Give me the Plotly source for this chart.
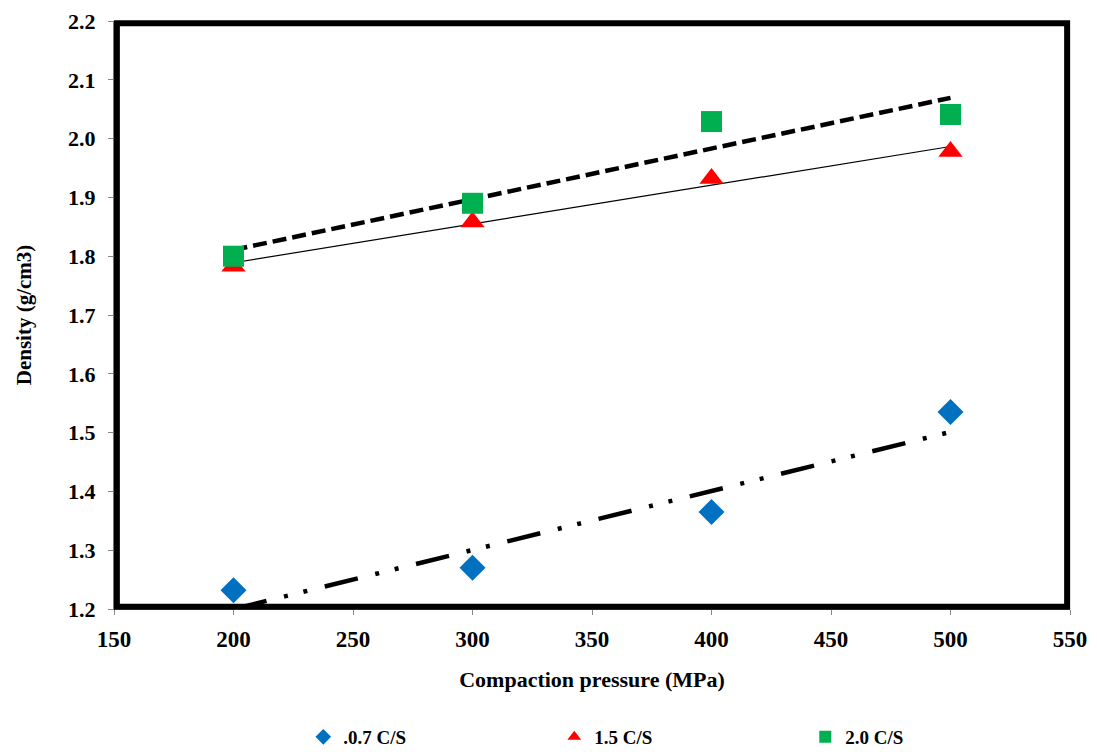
import numpy as np
import plotly.graph_objects as go

pressure = [200, 300, 400, 500]
cs07 = [1.232, 1.270, 1.365, 1.535]
cs15 = [1.783, 1.858, 1.932, 1.978]
cs20 = [1.800, 1.890, 2.029, 2.041]

names = [".0.7 C/S", "1.5 C/S", "2.0 C/S"]
colors = ["#0070C0", "#FF0000", "#00B050"]
x_ticks = [150, 200, 250, 300, 350, 400, 450, 500, 550]
y_ticks = [1.2, 1.3, 1.4, 1.5, 1.6, 1.7, 1.8, 1.9, 2.0, 2.1, 2.2]

FONT = "Liberation Serif"

fig = go.Figure()

def trend(y):
    k, b = np.polyfit(pressure, y, 1)
    xs = [pressure[0], pressure[-1]]
    return xs, [k * v + b for v in xs]

# trend lines
tx, ty = trend(cs07)
fig.add_trace(go.Scatter(x=tx, y=ty, mode="lines", showlegend=False, hoverinfo="skip",
                         line=dict(color="black", width=4.5,
                                   dash="34px,18px,4px,16px,4px,18px")))
tx, ty = trend(cs15)
fig.add_trace(go.Scatter(x=tx, y=ty, mode="lines", showlegend=False, hoverinfo="skip",
                         line=dict(color="black", width=1.2)))
tx, ty = trend(cs20)
fig.add_trace(go.Scatter(x=tx, y=ty, mode="lines", showlegend=False, hoverinfo="skip",
                         line=dict(color="black", width=4.5, dash="14px,6px")))

# markers
fig.add_trace(go.Scatter(x=pressure, y=cs07, mode="markers", showlegend=False,
                         marker=dict(symbol="diamond", size=20, color=colors[0])))
fig.add_trace(go.Scatter(x=pressure, y=cs15, mode="markers", showlegend=False,
                         marker=dict(symbol="triangle-up", size=21, color=colors[1])))
fig.add_trace(go.Scatter(x=pressure, y=cs20, mode="markers", showlegend=False,
                         marker=dict(symbol="square", size=21, color=colors[2])))

# legend entries
for nm, sym, c in zip(names, ["diamond", "triangle-up", "square"], colors):
    fig.add_trace(go.Scatter(x=[None], y=[None], mode="markers", name=nm,
                             marker=dict(symbol=sym, size=12, color=c)))

fig.add_shape(type="rect", xref="paper", yref="paper",
              x0=0.003, x1=0.997, y0=0.004, y1=0.996,
              line=dict(color="black", width=6))

fig.update_layout(
    width=1089, height=744,
    margin=dict(l=106, r=27, t=13, b=143, autoexpand=False),
    paper_bgcolor="white", plot_bgcolor="white",
    font=dict(family=FONT, size=22, color="black"),
    showlegend=True,
    legend=dict(orientation="h", x=0.198, y=-0.2177, xanchor="left", yanchor="middle",
                font=dict(family=FONT, size=19, color="black", weight="bold"),
                entrywidth=206, entrywidthmode="pixels", itemsizing="constant",
                bgcolor="rgba(0,0,0,0)"),
    xaxis=dict(range=[150, 550], tickvals=x_ticks, ticktext=[str(v) for v in x_ticks],
               showgrid=False, zeroline=False, showline=True, linecolor="#888888",
               linewidth=1, ticks="outside", tickcolor="#888888", ticklen=5,
               ticklabelstandoff=4, automargin=False, ticklabeloverflow="allow",
               tickfont=dict(family=FONT, size=23, weight="bold"),
               title=dict(text="Compaction pressure (MPa)", standoff=21,
                          font=dict(family=FONT, size=22, weight="bold"))),
    yaxis=dict(range=[1.2, 2.2], tickvals=y_ticks, ticktext=[f"{v:.1f}" for v in y_ticks],
               showgrid=False, zeroline=False, showline=True, linecolor="#888888",
               linewidth=1, ticks="outside", tickcolor="#888888", ticklen=5,
               ticklabelstandoff=8, automargin=False, ticklabeloverflow="allow",
               tickfont=dict(family=FONT, size=22, weight="bold"),
               title=dict(text="Density (g/cm3)", standoff=30,
                          font=dict(family=FONT, size=21, weight="bold"))),
)

fig.write_html("out.html")
